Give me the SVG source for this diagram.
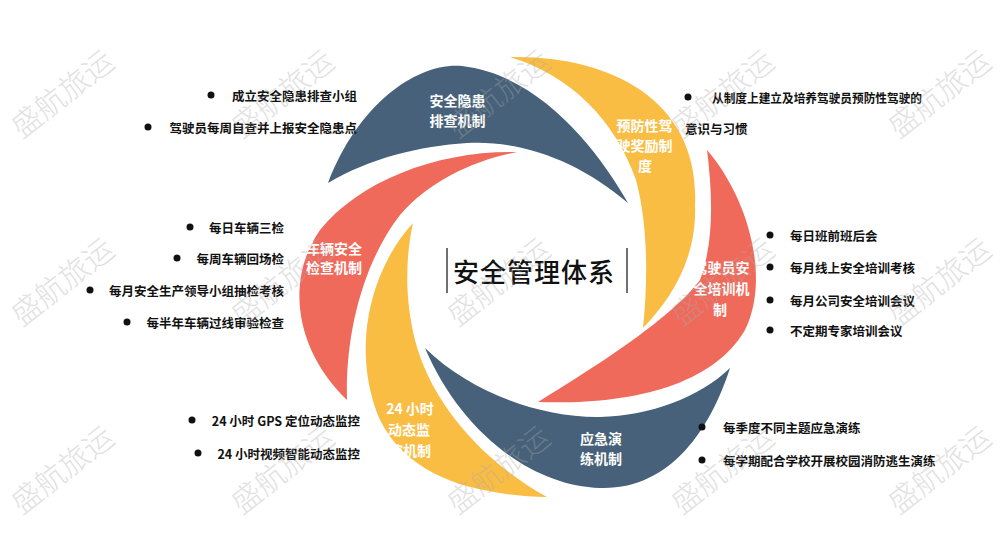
<svg xmlns="http://www.w3.org/2000/svg" width="1000" height="556" viewBox="0 0 1000 556">
<style>
.blue{fill:#466179}
.yel{fill:#F9BD44}
.sal{fill:#F06A5C}
.lbl{font-family:"Noto Sans CJK SC","Noto Sans",sans-serif;font-size:14px;font-weight:700;fill:#fff;text-anchor:middle;dominant-baseline:central}
.item{font-family:"Noto Sans CJK SC","Noto Sans",sans-serif;font-size:12.5px;font-weight:700;fill:#111;dominant-baseline:central}
.r{text-anchor:end}
.title{font-family:"Noto Sans CJK SC",sans-serif;font-size:26px;font-weight:500;fill:#111;text-anchor:middle;dominant-baseline:central;letter-spacing:1px}
.wm{font-family:"Noto Sans CJK SC",sans-serif;font-size:30px;font-weight:300;fill:#aaa;opacity:0.35;text-anchor:middle;dominant-baseline:central}
</style>
<rect width="1000" height="556" fill="#fff"/>
<g id="petal-hazard">
<path class="blue" d="M328,183 C360,100 420,62 462,66 C540,75 598,150 628,203 C578,160 520,140 467,143 C420,146 370,158 328,183 Z"/>
<text class="lbl" x="457.5" y="100">安全隐患</text>
<text class="lbl" x="457.5" y="120">排查机制</text>
</g>
<g id="petal-incentive">
<path class="yel" d="M510,57 C610,55 700,100 695,205 C697,260 670,300 643,328 C648,280 648,225 636,180 C615,120 570,75 510,57 Z"/>
<text class="lbl" x="644.5" y="125">预防性驾</text>
<text class="lbl" x="644.5" y="145">驶奖励制</text>
<text class="lbl" x="645" y="165">度</text>
</g>
<g id="petal-training">
<path class="sal" d="M707,150 C750,200 770,280 745,330 C710,390 620,405 538,402 C590,370 670,320 700,280 C715,240 712,190 707,150 Z"/>
<text class="lbl" x="721.5" y="267">驾驶员安</text>
<text class="lbl" x="721.5" y="288">全培训机</text>
<text class="lbl" x="720" y="309">制</text>
</g>
<g id="petal-drill">
<path class="blue" d="M425,348 C470,392 540,418 600,417 C650,416 700,397 730,368 C710,430 670,490 600,488 C530,486 460,430 425,348 Z"/>
<text class="lbl" x="601" y="438">应急演</text>
<text class="lbl" x="601" y="458">练机制</text>
</g>
<g id="petal-monitor">
<path class="yel" d="M413,223 C370,270 350,350 380,420 C410,480 480,495 547,497 C480,460 430,400 415,340 C405,300 405,260 413,223 Z"/>
<text class="lbl" x="410" y="408">24 小时</text>
<text class="lbl" x="409" y="429">动态监</text>
<text class="lbl" x="410" y="450">控机制</text>
</g>
<g id="petal-vehicle">
<path class="sal" d="M517,152 C440,150 360,180 320,230 C285,280 295,350 347,400 C345,330 365,260 400,215 C430,180 475,160 517,152 Z"/>
<text class="lbl" x="334" y="248">车辆安全</text>
<text class="lbl" x="334" y="267">检查机制</text>
</g>
<g id="center">
<line x1="447" y1="248" x2="447" y2="293" stroke="#111" stroke-width="1.2"/>
<line x1="627" y1="248" x2="627" y2="293" stroke="#111" stroke-width="1.2"/>
<text class="title" x="534" y="270">安全管理体系</text>
</g>
<g id="list-hazard">
<circle cx="211" cy="95" r="3.5" fill="#111"/>
<text class="item r" x="357" y="95">成立安全隐患排查小组</text>
<circle cx="148" cy="127" r="3.5" fill="#111"/>
<text class="item r" x="357" y="127">驾驶员每周自查并上报安全隐患点</text>
</g>
<g id="list-incentive">
<circle cx="688" cy="97" r="3.5" fill="#111"/>
<text class="item" x="712" y="97" textLength="210" lengthAdjust="spacingAndGlyphs">从制度上建立及培养驾驶员预防性驾驶的</text>
<text class="item" x="685" y="128">意识与习惯</text>
</g>
<g id="list-vehicle">
<circle cx="190" cy="227" r="3.5" fill="#111"/>
<text class="item r" x="284" y="227">每日车辆三检</text>
<circle cx="177" cy="258" r="3.5" fill="#111"/>
<text class="item r" x="284" y="258">每周车辆回场检</text>
<circle cx="90" cy="290" r="3.5" fill="#111"/>
<text class="item r" x="284" y="290">每月安全生产领导小组抽检考核</text>
<circle cx="127" cy="322" r="3.5" fill="#111"/>
<text class="item r" x="284" y="322">每半年车辆过线审验检查</text>
</g>
<g id="list-training">
<circle cx="770" cy="235" r="3.5" fill="#111"/>
<text class="item" x="790" y="235">每日班前班后会</text>
<circle cx="770" cy="267" r="3.5" fill="#111"/>
<text class="item" x="790" y="267">每月线上安全培训考核</text>
<circle cx="770" cy="300" r="3.5" fill="#111"/>
<text class="item" x="790" y="300">每月公司安全培训会议</text>
<circle cx="770" cy="330" r="3.5" fill="#111"/>
<text class="item" x="790" y="330">不定期专家培训会议</text>
</g>
<g id="list-monitor">
<circle cx="192" cy="420" r="3.5" fill="#111"/>
<text class="item r" x="360" y="420">24 小时 GPS 定位动态监控</text>
<circle cx="198" cy="453" r="3.5" fill="#111"/>
<text class="item r" x="360" y="453">24 小时视频智能动态监控</text>
</g>
<g id="list-drill">
<circle cx="702" cy="427" r="3.5" fill="#111"/>
<text class="item" x="723" y="427">每季度不同主题应急演练</text>
<circle cx="702" cy="460" r="3.5" fill="#111"/>
<text class="item" x="723" y="460">每学期配合学校开展校园消防逃生演练</text>
</g>
<g id="watermarks">
<text class="wm" transform="translate(61,92) rotate(-38)">盛航旅运</text>
<text class="wm" transform="translate(281,92) rotate(-38)">盛航旅运</text>
<text class="wm" transform="translate(497,92) rotate(-38)">盛航旅运</text>
<text class="wm" transform="translate(721,92) rotate(-38)">盛航旅运</text>
<text class="wm" transform="translate(938,92) rotate(-38)">盛航旅运</text>
<text class="wm" transform="translate(61,280) rotate(-38)">盛航旅运</text>
<text class="wm" transform="translate(281,280) rotate(-38)">盛航旅运</text>
<text class="wm" transform="translate(497,280) rotate(-38)">盛航旅运</text>
<text class="wm" transform="translate(721,280) rotate(-38)">盛航旅运</text>
<text class="wm" transform="translate(938,280) rotate(-38)">盛航旅运</text>
<text class="wm" transform="translate(61,468) rotate(-38)">盛航旅运</text>
<text class="wm" transform="translate(281,468) rotate(-38)">盛航旅运</text>
<text class="wm" transform="translate(497,468) rotate(-38)">盛航旅运</text>
<text class="wm" transform="translate(721,468) rotate(-38)">盛航旅运</text>
<text class="wm" transform="translate(938,468) rotate(-38)">盛航旅运</text>
</g>
</svg>
